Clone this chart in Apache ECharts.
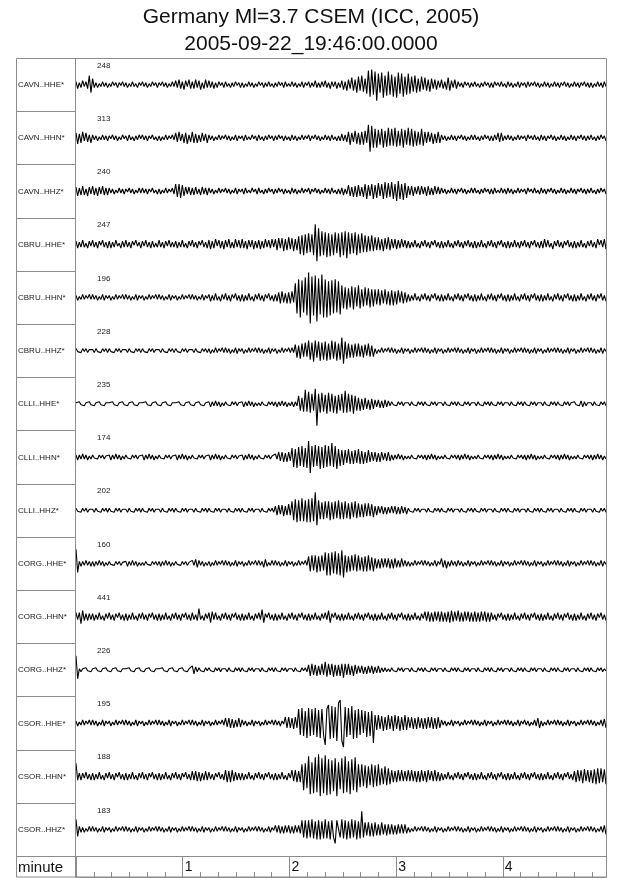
<!DOCTYPE html>
<html>
<head>
<meta charset="utf-8">
<script src="https://cdn.jsdelivr.net/npm/echarts@6/dist/echarts.min.js"></script>
<style>html,body{margin:0;padding:0;background:#fff;}#chart{width:640px;height:878px;}</style>
</head>
<body>
<div id="chart"></div>
<script>
// ---- data ----
const titleLines = ['Germany Ml=3.7 CSEM (ICC, 2005)', '2005-09-22_19:46:00.0000'];
const stations = ['CAVN..HHE*','CAVN..HHN*','CAVN..HHZ*','CBRU..HHE*','CBRU..HHN*','CBRU..HHZ*','CLLI..HHE*','CLLI..HHN*','CLLI..HHZ*','CORG..HHE*','CORG..HHN*','CORG..HHZ*','CSOR..HHE*','CSOR..HHN*','CSOR..HHZ*'];
const peakCounts = [248,313,240,247,196,228,235,174,202,160,441,226,195,188,183];
const axisTitle = 'minute';
const durationSec = 298;
const majorTickSec = 60;
const minorTickSec = 10;

const cavnHHE = [3,-4,2,-3,4,-2,3,-4,9,-8, 6,-3,2,-3,1,-2,3,-2,2,-3, 1,-2,3,-1,2,-3,2,-1,3,-2, 2,-3,1,-2,3,-2,1,-3,2,-1, 3,-2,2,-3,1,-2,3,-1,2,-3, 2,-1,3,-2,2,-3,1,-2,3,-2, 4,-3,5,-4,3,-5,4,-2,5,-4, 3,-4,5,-3,4,-5,2,-4,5,-3, 4,-3,3,-4,2,-3,3,-1,2,-3, 3,-2,1,-3,2,-2,3,-1,2,-3, 2,-3,1,-2,3,-2,2,-3,1,-2, 3,-1,2,-3,2,-2,3,-2,1,-3, 2,-2,3,-1,2,-3,3,-2,1,-2, 3,-2,2,-3,1,-2,3,-3,2,-1, 3,-3,2,-2,4,-3,2,-3,3,-2, 4,-3,2,-4,3,-2,3,-4,2,-3, 4,-5,3,-6,5,-4,7,-6,5,-8, 8,-6,9,-7,6,-9,14,-12,15,-10, 13,-16,11,-8,12,-13,9,-11,13,-10, 10,-12,8,-13,12,-9,11,-12,8,-10, 11,-9,8,-7,9,-8,6,-7,8,-5, 7,-6,5,-7,6,-4,5,-5,4,-3, 5,-4,3,-5,7,-6,4,-3,5,-4, 3,-2,2,-3,3,-1,2,-3,2,-2, 3,-2,1,-3,2,-2,3,-1,2,-3, 2,-3,3,-1,2,-2,3,-2,1,-3, 3,-2,2,-3,1,-2,3,-3,2,-1, 2,-3,3,-2,2,-1,3,-2,2,-3, 1,-2,3,-2,2,-3,1,-2,3,-2, 2,-3,2,-1,3,-2,2,-3,1,-2, 3,-2,2,-3,2,-1,3,-2,2,-3, 2,-3,1,-2,3,-2,2,-3,3,-2];
const cavnHHN = [5,-6,4,-5,6,-3,5,-4,3,-5, 3,-2,2,-3,1,-2,3,-2,2,-3, 2,-1,3,-2,2,-3,1,-2,3,-1, 2,-3,3,-2,1,-3,2,-2,3,-1, 3,-2,2,-3,2,-1,3,-2,1,-3, 2,-3,1,-2,3,-2,2,-1,3,-2, 5,-4,6,-3,4,-5,5,-6,3,-4, 6,-5,4,-5,3,-4,5,-3,4,-5, 3,-2,2,-3,1,-2,3,-2,2,-1, 3,-2,2,-3,1,-2,3,-3,2,-1, 2,-3,3,-2,1,-2,3,-1,2,-3, 3,-2,1,-3,2,-2,3,-1,2,-3, 2,-2,3,-1,2,-3,2,-2,1,-3, 3,-2,2,-3,1,-2,3,-2,2,-1, 3,-3,2,-1,3,-2,2,-3,1,-2, 3,-2,2,-3,3,-2,1,-3,2,-3, 4,-3,3,-4,6,-7,5,-4,7,-6, 5,-7,6,-7,7,-5,13,-14,12,-10, 9,-10,8,-7,9,-10,7,-9,10,-8, 9,-8,10,-9,7,-8,9,-10,8,-7, 10,-8,9,-9,7,-8,6,-7,9,-8, 6,-5,6,-4,5,-6,4,-5,6,-5, 3,-2,2,-3,1,-2,3,-2,2,-3, 2,-1,3,-2,2,-3,1,-2,3,-2, 3,-2,1,-3,2,-2,3,-1,2,-3, 2,-3,3,-2,5,-4,5,-3,2,-2, 3,-2,2,-3,1,-2,3,-2,2,-1, 2,-3,3,-1,2,-2,3,-2,1,-3, 3,-2,2,-3,2,-1,3,-2,2,-3, 1,-2,3,-2,2,-3,1,-2,3,-2, 2,-3,2,-1,3,-2,2,-3,2,-2, 3,-2,1,-3,2,-2,3,-1,2,-3];
const cavnHHZ = [4,-5,3,-4,5,-4,2,-5,4,-3, 5,-4,3,-5,4,-3,5,-4,3,-4, 3,-2,2,-3,1,-2,3,-2,2,-3, 2,-1,3,-2,2,-3,1,-2,3,-2, 3,-2,2,-3,2,-1,3,-2,1,-3, 2,-3,1,-2,3,-2,2,-1,3,-3, 7,-6,7,-7,6,-5,4,-3,4,-4, 3,-4,4,-3,2,-4,4,-3,3,-4, 3,-2,2,-3,1,-2,3,-2,2,-1, 3,-2,2,-3,1,-2,3,-3,2,-1, 2,-3,3,-2,1,-2,3,-1,2,-3, 3,-2,1,-3,2,-2,3,-1,2,-3, 2,-2,3,-1,2,-3,2,-2,1,-3, 3,-2,2,-3,1,-2,3,-2,2,-1, 3,-3,2,-1,3,-2,2,-3,1,-2, 3,-2,2,-3,3,-2,1,-3,2,-3, 3,-4,2,-3,6,-5,4,-6,5,-6, 6,-5,4,-6,7,-8,6,-5,7,-8, 6,-7,8,-5,7,-8,9,-7,8,-6, 9,-8,7,-10,10,-8,7,-9,8,-7, 5,-4,5,-5,4,-3,5,-4,5,-3, 4,-5,5,-4,3,-4,5,-3,4,-3, 3,-2,2,-3,1,-2,3,-2,2,-3, 2,-1,3,-2,2,-3,1,-2,3,-2, 3,-2,1,-3,2,-2,3,-1,2,-3, 2,-3,3,-2,1,-2,3,-2,2,-3, 3,-2,2,-3,1,-2,3,-2,2,-1, 2,-3,3,-1,2,-2,3,-2,1,-3, 3,-2,2,-3,2,-1,3,-2,2,-3, 1,-2,3,-2,2,-3,1,-2,3,-2, 2,-3,2,-1,3,-2,2,-3,2,-2, 3,-2,1,-3,2,-2,3,-1,2,-3];
const cbruHHE = [3,-4,2,-3,4,-3,1,-4,3,-2, 4,-3,2,-4,3,-1,4,-3,2,-4, 3,-4,2,-3,4,-2,1,-4,3,-3, 4,-3,2,-4,3,-1,4,-2,2,-4, 3,-2,4,-3,2,-4,3,-3,1,-3, 4,-3,2,-4,3,-2,4,-3,2,-3, 3,-4,2,-3,4,-3,1,-4,3,-2, 4,-3,2,-4,3,-1,4,-3,2,-4, 4,-5,3,-4,5,-2,4,-4,3,-5, 4,-3,5,-4,2,-4,5,-3,4,-4, 5,-4,3,-5,4,-3,4,-5,3,-4, 4,-5,3,-4,5,-3,4,-4,5,-3, 5,-6,6,-4,6,-7,5,-6,7,-5, 6,-7,5,-6,8,-10,9,-11,10,-9, 11,-8,10,-11,20,-17,16,-12,13,-11, 12,-13,11,-12,10,-11,12,-9,11,-13, 12,-11,13,-14,12,-10,11,-9,12,-11, 10,-9,11,-8,9,-8,8,-7,9,-7, 7,-6,7,-6,5,-7,6,-5,7,-6, 5,-4,5,-5,4,-4,5,-3,4,-4, 3,-4,2,-3,4,-3,1,-4,3,-2, 4,-3,2,-4,3,-1,4,-3,2,-4, 3,-4,2,-3,4,-3,1,-4,3,-2, 4,-3,2,-4,3,-2,4,-3,2,-4, 3,-4,2,-3,4,-3,1,-4,3,-2, 4,-3,2,-4,3,-1,4,-3,2,-4, 3,-4,2,-3,4,-3,2,-4,3,-2, 4,-3,2,-4,3,-1,4,-3,2,-4, 3,-4,5,-3,4,-3,1,-5,3,-2, 4,-3,2,-4,3,-1,4,-3,2,-4, 3,-4,2,-3,4,-3,1,-4,3,-2, 4,-3,2,-4,5,-1,4,-3,5,-5];
const cbruHHN = [2,-3,1,-2,3,-2,2,-1,3,-2, 3,-2,2,-3,1,-2,3,-3,2,-1, 2,-3,1,-2,3,-2,2,-1,3,-2, 3,-2,2,-3,1,-2,3,-3,2,-1, 2,-3,1,-2,3,-2,2,-1,3,-2, 3,-2,2,-3,1,-2,3,-3,2,-1, 2,-3,1,-2,3,-2,2,-1,3,-2, 3,-2,2,-3,1,-2,3,-3,2,-1, 3,-4,2,-3,4,-3,1,-4,3,-2, 4,-3,2,-4,3,-1,4,-3,2,-4, 3,-4,2,-3,4,-3,1,-4,3,-2, 4,-3,2,-4,3,-1,4,-3,2,-4, 3,-4,5,-6,6,-5,4,-6,5,-6, 6,-5,14,-16,18,-20,17,-15,20,-18, 25,-26,21,-18,22,-24,19,-17,23,-20, 18,-20,16,-18,17,-16,18,-15,16,-17, 12,-11,10,-12,9,-10,11,-12,10,-9, 12,-11,8,-9,10,-8,9,-10,8,-9, 8,-7,8,-8,7,-6,8,-7,6,-8, 7,-8,6,-7,7,-5,6,-6,5,-5, 3,-4,2,-3,4,-3,1,-4,3,-2, 4,-3,2,-4,3,-1,4,-3,2,-4, 3,-4,2,-3,4,-3,1,-4,3,-2, 4,-3,2,-4,3,-1,4,-3,2,-4, 3,-4,2,-3,4,-3,1,-4,3,-2, 4,-3,2,-4,3,-1,4,-3,2,-4, 3,-4,2,-3,4,-3,1,-4,3,-2, 4,-3,2,-4,3,-1,4,-3,2,-4, 3,-4,2,-3,4,-3,1,-4,3,-2, 4,-3,2,-4,3,-1,4,-3,2,-4, 3,-4,2,-3,4,-3,1,-4,3,-2, 4,-3,2,-4,3,-1,4,-3,2,-4];
const cbruHHZ = [2,-1,1,-2,2,-1,2,-2,1,-1, 1,-2,2,-1,1,-2,2,-1,2,-2, 2,-1,1,-2,2,-1,2,-2,1,-1, 1,-2,2,-1,1,-2,2,-1,2,-2, 2,-1,1,-2,2,-1,2,-2,1,-1, 1,-2,2,-1,1,-2,2,-1,2,-2, 2,-1,1,-2,2,-1,2,-2,1,-1, 1,-2,2,-1,1,-2,2,-1,2,-2, 2,-3,1,-2,3,-2,2,-1,3,-2, 3,-2,2,-3,1,-2,3,-3,2,-1, 2,-3,1,-2,3,-2,2,-1,3,-2, 3,-2,2,-3,1,-2,3,-3,2,-1, 2,-3,1,-2,3,-2,2,-1,3,-2, 3,-2,6,-7,5,-8,7,-6,8,-6, 10,-9,8,-11,10,-7,9,-10,8,-9, 9,-10,7,-9,10,-8,9,-10,7,-9, 13,-13,9,-8,7,-7,6,-7,7,-6, 7,-6,5,-7,6,-5,7,-6,5,-6, 2,-3,1,-2,3,-2,2,-1,3,-2, 3,-2,2,-3,1,-2,3,-3,2,-1, 2,-3,1,-2,3,-2,2,-1,3,-2, 3,-2,2,-3,1,-2,3,-3,2,-1, 2,-3,1,-2,3,-2,2,-1,3,-2, 3,-2,2,-3,1,-2,3,-3,2,-1, 2,-3,1,-2,3,-2,2,-1,3,-2, 3,-2,2,-3,1,-2,3,-3,2,-1, 2,-3,1,-2,3,-2,2,-1,3,-2, 3,-2,2,-3,1,-2,3,-3,2,-1, 2,-3,1,-2,3,-2,2,-1,3,-2, 3,-2,2,-3,1,-2,3,-3,2,-1, 2,-3,1,-2,3,-2,2,-1,3,-2, 3,-2,2,-3,1,-2,3,-3,2,-1];
const clliHHE = [1,-1,2,-1,1,-2,1,-1,2,-1, 1,-2,1,-1,2,-1,1,-2,1,-1, 1,-1,2,-1,1,-2,1,-1,2,-1, 1,-2,1,-1,2,-1,1,-2,1,-1, 1,-1,2,-1,1,-2,1,-1,2,-1, 1,-2,1,-1,2,-1,1,-2,1,-1, 1,-1,2,-1,1,-2,1,-1,2,-1, 1,-2,1,-1,2,-1,1,-2,1,-1, 2,-3,2,-2,3,-2,2,-3,1,-2, 2,-1,1,-2,2,-1,2,-2,1,-1, 2,-3,2,-2,3,-2,2,-3,1,-2, 1,-2,2,-1,1,-2,2,-1,2,-2, 2,-3,2,-2,3,-2,2,-3,1,-2, 2,-3,2,-2,8,-7,6,-8,14,-8, 12,-9,10,-7,15,-22,10,-9,11,-8, 9,-10,11,-8,10,-9,8,-10,9,-7, 10,-9,13,-9,10,-8,9,-10,8,-7, 6,-7,5,-6,6,-5,4,-6,5,-5, 4,-3,4,-4,3,-4,4,-3,3,-2, 2,-1,1,-2,2,-1,2,-2,1,-1, 1,-2,2,-1,1,-2,2,-1,2,-2, 2,-1,1,-2,2,-1,2,-2,1,-1, 1,-2,2,-1,1,-2,2,-1,2,-2, 2,-1,1,-2,2,-1,2,-2,1,-1, 1,-2,2,-1,1,-2,2,-1,2,-2, 2,-1,1,-2,2,-1,2,-2,1,-1, 1,-2,2,-1,1,-2,2,-1,2,-2, 2,-1,1,-2,2,-1,2,-2,1,-1, 1,-2,2,-1,1,-2,2,-1,2,-2, 2,-1,1,-2,2,-1,2,-2,1,-1, 2,-1,1,-2,3,-3,2,-2,1,-1, 1,-2,2,-1,1,-2,2,-1,2,-2];
const clliHHN = [2,-3,2,-2,3,-2,2,-3,1,-2, 2,-1,1,-2,2,-1,2,-2,1,-1, 2,-3,2,-2,3,-2,2,-3,1,-2, 2,-1,1,-2,2,-1,2,-2,1,-1, 2,-3,2,-2,3,-2,2,-3,1,-2, 2,-1,1,-2,2,-1,2,-2,1,-1, 2,-3,2,-2,3,-2,2,-3,1,-2, 2,-1,1,-2,2,-1,2,-2,1,-1, 2,-3,2,-2,3,-2,2,-3,1,-2, 2,-1,1,-2,2,-1,2,-2,1,-1, 2,-3,2,-2,3,-2,2,-3,1,-2, 2,-1,1,-2,2,-1,2,-2,1,-1, 3,-2,5,-4,5,-5,4,-5,5,-4, 9,-10,8,-11,10,-9,11,-10,9,-11, 16,-16,11,-10,12,-9,11,-12,10,-11, 12,-10,11,-9,14,-10,11,-12,8,-9, 7,-8,7,-6,8,-7,6,-7,7,-6, 8,-7,6,-7,5,-6,7,-5,5,-4, 5,-5,4,-5,5,-3,4,-4,5,-4, 2,-3,2,-2,3,-2,2,-3,1,-2, 1,-2,2,-1,1,-2,2,-1,2,-2, 2,-3,2,-2,3,-2,2,-3,1,-2, 1,-2,2,-1,1,-2,2,-1,2,-2, 2,-3,2,-2,3,-2,2,-3,1,-2, 1,-2,2,-1,1,-2,2,-1,2,-2, 2,-3,2,-2,3,-2,2,-3,1,-2, 1,-2,2,-1,1,-2,2,-1,2,-2, 2,-3,2,-2,3,-2,2,-3,1,-2, 1,-2,2,-1,1,-2,2,-1,2,-2, 2,-3,2,-2,3,-2,2,-3,1,-2, 1,-2,2,-1,1,-2,2,-1,2,-2, 2,-3,2,-2,3,-2,2,-3,1,-2];
const clliHHZ = [2,-1,1,-2,2,-1,2,-2,1,-1, 1,-2,2,-1,1,-2,2,-1,2,-2, 2,-1,1,-2,2,-1,2,-2,1,-1, 1,-2,2,-1,1,-2,2,-1,2,-2, 2,-1,1,-2,2,-1,2,-2,1,-1, 1,-2,2,-1,1,-2,2,-1,2,-2, 2,-1,1,-2,2,-1,2,-2,1,-1, 1,-2,2,-1,1,-2,2,-1,2,-2, 2,-1,1,-2,2,-1,2,-2,1,-1, 1,-2,2,-1,1,-2,2,-1,2,-2, 2,-1,1,-2,2,-1,2,-2,1,-1, 1,-2,2,-1,1,-2,2,-1,2,-2, 4,-5,5,-4,5,-6,4,-5,6,-5, 9,-10,11,-12,10,-11,12,-11,10,-12, 11,-12,12,-11,18,-15,10,-9,8,-9, 9,-8,9,-10,8,-9,9,-8,10,-9, 8,-9,9,-8,7,-9,8,-7,9,-8, 7,-7,6,-7,7,-6,7,-6,6,-7, 4,-5,4,-3,4,-4,3,-4,3,-3, 4,-3,4,-4,3,-4,4,-3,3,-4, 2,-1,1,-2,2,-1,2,-2,1,-1, 1,-2,2,-1,1,-2,2,-1,2,-2, 2,-1,1,-2,2,-1,2,-2,1,-1, 1,-2,2,-1,1,-2,2,-1,2,-2, 2,-1,1,-2,2,-1,2,-2,1,-1, 1,-2,2,-1,1,-2,2,-1,2,-2, 2,-1,1,-2,2,-1,2,-2,1,-1, 1,-2,2,-1,1,-2,2,-1,2,-2, 2,-1,1,-2,2,-1,2,-2,1,-1, 1,-2,2,-1,1,-2,2,-1,2,-2, 2,-1,1,-2,2,-1,2,-2,1,-1, 1,-2,2,-1,1,-2,2,-1,2,-2];
const corgHHE = [14,-9,2,-3,2,-2,3,-2,2,-3, 2,-3,2,-2,3,-2,2,-3,1,-2, 2,-1,1,-2,2,-1,2,-2,1,-1, 2,-3,2,-2,3,-2,2,-3,1,-2, 1,-2,2,-1,1,-2,2,-1,2,-2, 2,-3,2,-2,3,-2,2,-3,1,-2, 2,-1,1,-2,2,-1,2,-2,1,-1, 3,-2,4,-4,3,-2,2,-3,1,-2, 2,-3,1,-2,3,-2,2,-1,3,-2, 3,-2,2,-3,1,-2,3,-3,2,-1, 2,-3,1,-2,3,-2,2,-1,3,-2, 3,-2,2,-4,4,-3,1,-2,3,-2, 3,-2,2,-3,1,-2,3,-3,2,-1, 2,-3,1,-2,3,-2,2,-1,3,-2, 7,-8,8,-7,8,-9,7,-8,8,-7, 11,-12,10,-12,11,-10,12,-11,10,-12, 13,-14,8,-9,7,-8,8,-7,9,-8, 8,-7,6,-8,7,-8,8,-7,6,-8, 5,-5,4,-5,5,-4,5,-4,5,-5, 4,-5,5,-4,3,-4,5,-3,3,-3, 2,-3,1,-2,3,-2,2,-1,3,-2, 3,-2,2,-3,1,-2,3,-3,2,-1, 5,-4,3,-5,2,-3,3,-2,2,-3, 3,-2,2,-3,1,-2,3,-3,2,-1, 2,-3,1,-2,3,-2,2,-1,3,-2, 3,-2,2,-3,1,-2,3,-3,2,-1, 2,-3,1,-2,3,-2,2,-1,3,-2, 3,-2,2,-3,1,-2,3,-3,2,-1, 2,-3,1,-2,3,-2,2,-1,3,-2, 3,-2,2,-3,1,-2,3,-3,2,-1, 2,-3,1,-2,3,-2,2,-1,3,-2, 3,-2,2,-3,1,-2,3,-3,2,-1];
const corgHHN = [4,-3,4,-7,6,-4,3,-4,3,-3, 3,-4,2,-3,4,-3,1,-4,3,-2, 4,-3,2,-4,3,-1,4,-3,2,-4, 3,-4,2,-3,4,-3,1,-4,3,-2, 4,-3,2,-4,3,-1,4,-3,2,-4, 3,-4,2,-3,4,-3,1,-4,3,-2, 4,-3,2,-4,3,-1,4,-3,2,-4, 4,-3,2,-4,8,-3,1,-4,3,-2, 4,-6,5,-3,4,-3,1,-4,3,-2, 4,-3,2,-4,3,-1,4,-3,2,-4, 3,-4,2,-3,4,-3,1,-4,3,-2, 4,-3,7,-6,3,-1,4,-3,2,-4, 3,-4,2,-3,4,-3,1,-4,3,-2, 4,-3,2,-4,3,-1,4,-3,2,-4, 3,-4,2,-3,4,-3,1,-4,3,-2, 4,-3,6,-6,3,-1,4,-3,2,-4, 3,-4,2,-3,4,-3,1,-4,3,-2, 4,-3,2,-4,3,-1,4,-3,2,-4, 3,-4,2,-3,4,-3,1,-4,3,-2, 4,-3,2,-4,3,-1,4,-3,2,-4, 3,-4,2,-3,4,-3,1,-4,3,-2, 5,-4,5,-5,4,-5,5,-4,5,-5, 5,-5,4,-5,5,-6,6,-5,5,-4, 6,-5,4,-5,5,-4,5,-5,4,-5, 5,-5,4,-5,5,-4,5,-5,4,-5, 4,-3,2,-4,3,-1,4,-3,2,-4, 3,-4,2,-3,4,-3,1,-4,3,-2, 4,-3,2,-4,3,-1,4,-3,2,-4, 3,-4,2,-3,4,-3,1,-4,3,-2, 4,-3,2,-4,3,-1,4,-3,2,-4, 3,-4,2,-3,4,-3,1,-4,3,-2, 4,-3,2,-4,3,-1,4,-3,2,-4];
const corgHHZ = [14,-9,1,-2,1,-1,2,-1,1,-2, 1,-1,2,-1,1,-2,1,-1,2,-1, 1,-2,1,-1,2,-1,1,-2,1,-1, 1,-1,2,-1,1,-2,1,-1,2,-1, 1,-2,1,-1,2,-1,1,-2,1,-1, 1,-1,2,-1,1,-2,1,-1,2,-1, 1,-2,1,-1,2,-1,1,-2,1,-1, 4,-4,3,-2,2,-1,1,-2,2,-1, 2,-1,1,-2,2,-1,2,-2,1,-1, 1,-2,2,-1,1,-2,2,-1,2,-2, 2,-1,1,-2,2,-1,2,-2,1,-1, 1,-2,2,-1,1,-2,2,-1,2,-2, 2,-1,1,-2,2,-1,2,-2,1,-1, 1,-2,2,-1,1,-2,2,-1,2,-2, 5,-6,6,-5,5,-6,4,-5,6,-5, 8,-7,6,-5,6,-7,5,-6,5,-6, 6,-8,6,-5,6,-5,4,-6,5,-4, 4,-3,4,-4,3,-4,4,-3,4,-4, 3,-3,4,-3,2,-2,2,-2,1,-2, 2,-1,1,-2,2,-1,2,-2,1,-1, 1,-2,2,-1,1,-2,2,-1,2,-2, 2,-1,1,-2,2,-1,2,-2,1,-1, 1,-2,2,-1,1,-2,2,-1,2,-2, 2,-1,1,-2,2,-1,2,-2,1,-1, 1,-2,2,-1,1,-2,2,-1,2,-2, 2,-1,1,-2,2,-1,2,-2,1,-1, 1,-2,2,-1,1,-2,2,-1,2,-2, 2,-1,1,-2,2,-1,2,-2,1,-1, 1,-2,2,-1,1,-2,2,-1,2,-2, 2,-1,1,-2,2,-1,2,-2,1,-1, 1,-2,2,-1,1,-2,2,-1,2,-2, 2,-1,1,-2,2,-1,2,-2,1,-1];
const csorHHE = [2,-3,1,-2,3,-2,2,-1,3,-2, 3,-2,2,-3,1,-2,3,-3,2,-1, 2,-3,1,-2,3,-2,2,-1,3,-2, 3,-2,2,-3,1,-2,3,-3,2,-1, 2,-3,1,-2,3,-2,2,-1,3,-2, 3,-2,2,-3,1,-2,3,-3,2,-1, 2,-3,1,-2,3,-2,2,-1,3,-2, 3,-2,2,-3,1,-2,3,-3,2,-1, 2,-3,1,-2,3,-2,2,-1,3,-2, 5,-4,5,-5,4,-5,3,-4,5,-4, 3,-2,2,-3,1,-2,3,-3,2,-1, 2,-3,1,-2,3,-2,2,-1,3,-2, 3,-2,2,-3,2,-1,6,-5,6,-5, 5,-6,6,-5,14,-12,15,-13,12,-15, 15,-13,14,-12,15,-14,13,-15,14,-12, -22,14,18,-16,17,-15,16,-18,20,23, -18,-24,16,-14,15,-12,17,-16,13,-15, 14,-12,13,-10,12,-14,11,-13,12,-20, 8,-7,8,-6,7,-8,6,-7,8,-6, 7,-8,8,-6,7,-8,6,-7,8,-7, 6,-5,6,-6,5,-6,6,-5,5,-6, 5,-6,6,-5,6,-6,5,-6,6,-5, 3,-2,2,-3,1,-2,3,-3,2,-1, 2,-3,1,-2,3,-2,2,-1,3,-2, 3,-2,2,-3,1,-2,3,-3,2,-1, 2,-3,1,-2,3,-2,2,-1,3,-2, 3,-2,2,-3,1,-2,3,-3,2,-1, 3,-2,2,-3,1,-2,3,-3,5,-5, 2,-3,1,-2,3,-2,2,-1,3,-2, 3,-2,2,-3,1,-2,3,-3,2,-1, 2,-3,1,-2,3,-2,2,-1,3,-2, 3,-2,2,-3,1,-2,3,-3,4,-5];
const csorHHN = [13,-4,3,-4,3,-2,4,-3,2,-4, 3,-4,2,-3,4,-3,1,-4,3,-2, 4,-3,2,-4,3,-1,4,-3,2,-4, 3,-4,2,-3,4,-3,1,-4,3,-2, 4,-3,2,-4,3,-1,4,-3,2,-4, 3,-4,2,-3,4,-3,1,-4,3,-2, 4,-3,2,-4,3,-1,4,-3,2,-4, 5,-4,5,-5,4,-5,3,-4,5,-4, 4,-3,2,-4,3,-1,4,-3,2,-4, 6,-6,5,-6,6,-5,4,-4,3,-4, 3,-4,2,-3,4,-3,1,-4,3,-2, 4,-3,2,-4,3,-1,4,-3,2,-4, 3,-4,2,-3,4,-3,1,-4,3,-2, 6,-5,6,-6,5,-6,12,-14,13,-12, 20,-18,14,-17,19,-16,22,-20,18,-17, 21,-19,17,-18,16,-15,18,-20,14,-13, 18,-17,20,-16,15,-18,17,-14,19,-16, 12,-11,12,-10,11,-12,10,-9,12,-11, 11,-10,12,-9,8,-8,10,-9,8,-8, 6,-6,5,-6,6,-5,6,-5,5,-5, 6,-5,6,-5,5,-6,5,-6,6,-5, 5,-6,6,-4,5,-5,6,-5,4,-5, 3,-4,2,-3,4,-3,1,-4,3,-2, 4,-3,2,-4,3,-1,4,-3,2,-4, 3,-4,2,-3,4,-3,1,-4,3,-2, 4,-3,2,-4,3,-1,4,-3,2,-4, 3,-4,2,-3,4,-3,1,-4,3,-2, 4,-3,2,-4,3,-1,4,-3,2,-4, 3,-4,2,-3,4,-3,1,-4,3,-2, 4,-3,2,-4,3,-1,4,-3,2,-4, 5,-6,6,-5,6,-7,7,-5,6,-6, 6,-7,7,-8,8,-7,8,-6,7,-8];
const csorHHZ = [10,-7,3,-3,2,-3,1,-2,3,-2, 3,-2,2,-3,1,-2,3,-3,2,-1, 2,-3,1,-2,3,-2,2,-1,3,-2, 3,-2,2,-3,1,-2,3,-3,2,-1, 2,-3,1,-2,3,-2,2,-1,3,-2, 3,-2,2,-3,1,-2,3,-3,2,-1, 2,-3,1,-2,3,-2,2,-1,3,-2, 3,-2,2,-3,1,-2,3,-3,2,-1, 2,-3,1,-2,3,-2,2,-1,3,-2, 3,-2,2,-3,1,-2,3,-3,2,-1, 2,-3,1,-2,3,-2,2,-1,3,-2, 3,-2,2,-3,1,-2,3,-3,2,-1, 4,-3,4,-4,3,-4,4,-3,4,-4, 3,-4,4,-3,4,-4,9,-8,9,-9, 9,-8,10,-9,8,-10,9,-10,8,-9, 10,-9,8,-10,9,-8,-14,9,10,-8, 10,-9,9,-10,8,-9,10,-8,9,-10, 8,-9,18,-8,7,-6,7,-7,6,-7, 7,-6,5,-6,7,-5,5,-6,5,-5, 5,-5,4,-5,5,-4,5,-4,5,-4, 2,-3,1,-2,3,-2,2,-1,3,-2, 3,-2,2,-3,1,-2,3,-3,2,-1, 2,-3,1,-2,3,-2,2,-1,3,-2, 3,-2,2,-3,1,-2,3,-3,2,-1, 2,-3,1,-2,3,-2,2,-1,3,-2, 3,-2,2,-3,1,-2,3,-3,2,-1, 2,-3,1,-2,3,-2,2,-1,3,-2, 3,-2,2,-3,1,-2,3,-3,2,-1, 2,-3,1,-2,3,-2,2,-1,3,-2, 3,-2,2,-3,1,-2,3,-3,2,-1, 2,-3,1,-2,3,-2,2,-1,3,-2, 3,-2,2,-3,1,-2,3,-3,4,-5];

const traces = [cavnHHE,cavnHHN,cavnHHZ,cbruHHE,cbruHHN,cbruHHZ,clliHHE,clliHHN,clliHHZ,corgHHE,corgHHN,corgHHZ,csorHHE,csorHHN,csorHHZ];

// ---- layout ----
const FONT = 'Liberation Sans, Arial, Helvetica, sans-serif';
const frameL = 16, frameR = 606, frameT = 58, frameB = 877;
const divX = 75.5;
const rowH = 53.2;
const axisRowT = frameT + rowH * stations.length; // ~856
const LINE = '#8c8c8c';

const grids = [], xAxes = [], yAxes = [], series = [];
traces.forEach((vals, k) => {
  grids.push({ left: 76, right: 640 - frameR, top: frameT + k * rowH, height: rowH });
  xAxes.push({ type: 'category', gridIndex: k, show: false, boundaryGap: false, data: vals.map((v, i) => i) });
  yAxes.push({ type: 'value', gridIndex: k, show: false, min: -rowH / 2, max: rowH / 2 });
  series.push({
    type: 'line', xAxisIndex: k, yAxisIndex: k, data: vals, symbol: 'none', silent: true,
    clip: false, animation: false, sampling: null, lineStyle: { color: '#000', width: 1.1 }
  });
});

const ag = traces.length;
grids.push({ left: 76, right: 640 - frameR, top: axisRowT, height: frameB - axisRowT });
xAxes.push({
  type: 'value', gridIndex: ag, min: 0, max: durationSec, interval: minorTickSec, position: 'bottom',
  axisLine: { show: true, lineStyle: { color: LINE, width: 1 } },
  axisTick: { show: true, inside: true, length: 5, lineStyle: { color: LINE, width: 1 } },
  axisLabel: { show: false }, splitLine: { show: false }
});
xAxes.push({
  type: 'value', gridIndex: ag, min: 0, max: durationSec, interval: majorTickSec, position: 'bottom',
  axisLine: { show: false }, axisTick: { show: false },
  splitLine: { show: true, lineStyle: { color: LINE, width: 1 } },
  axisLabel: {
    show: true, inside: true, margin: 3, align: 'left', padding: [0, 0, 0, 2],
    fontFamily: FONT, fontSize: 14, color: '#111',
    formatter: v => (v > 0 && v % majorTickSec === 0) ? String(v / majorTickSec) : ''
  }
});
yAxes.push({ type: 'value', gridIndex: ag, show: false, min: 0, max: 1 });

const graphic = [];
graphic.push({ type: 'rect', shape: { x: frameL + 0.5, y: frameT + 0.5, width: frameR - frameL, height: frameB - frameT - 0.5 },
  style: { fill: null, stroke: LINE, lineWidth: 1 }, silent: true, z: 10 });
graphic.push({ type: 'line', shape: { x1: divX, y1: frameT, x2: divX, y2: frameB }, style: { stroke: LINE, lineWidth: 1 }, silent: true, z: 10 });
for (let k = 1; k < stations.length; k++) {
  const y = Math.round(frameT + k * rowH) + 0.5;
  graphic.push({ type: 'line', shape: { x1: frameL, y1: y, x2: divX, y2: y }, style: { stroke: LINE, lineWidth: 1 }, silent: true, z: 10 });
}
graphic.push({ type: 'line', shape: { x1: frameL, y1: Math.round(axisRowT) + 0.5, x2: frameR, y2: Math.round(axisRowT) + 0.5 }, style: { stroke: LINE, lineWidth: 1 }, silent: true, z: 10 });
stations.forEach((s, k) => {
  const top = frameT + k * rowH;
  graphic.push({ type: 'text', x: 18, y: top + 27, silent: true, z: 11,
    style: { text: s, font: '8px ' + FONT, fill: '#222', textVerticalAlign: 'middle', textAlign: 'left' } });
  graphic.push({ type: 'text', x: 97, y: top + 7.5, silent: true, z: 11,
    style: { text: String(peakCounts[k]), font: '8px ' + FONT, fill: '#222', textVerticalAlign: 'middle', textAlign: 'left' } });
});
graphic.push({ type: 'text', x: 18, y: (axisRowT + frameB) / 2 + 1, silent: true, z: 11,
  style: { text: axisTitle, font: '15px ' + FONT, fill: '#111', textVerticalAlign: 'middle', textAlign: 'left' } });
titleLines.forEach((t, i) => {
  graphic.push({ type: 'text', x: (frameL + frameR) / 2, y: 17 + i * 27, silent: true, z: 11,
    style: { text: t, font: '21px ' + FONT, fill: '#111', textVerticalAlign: 'middle', textAlign: 'center' } });
});

const chart = echarts.init(document.getElementById('chart'), null, { renderer: 'canvas' });
chart.setOption({
  animation: false,
  backgroundColor: '#fff',
  grid: grids, xAxis: xAxes, yAxis: yAxes, series: series, graphic: graphic
});
</script>
</body>
</html>
